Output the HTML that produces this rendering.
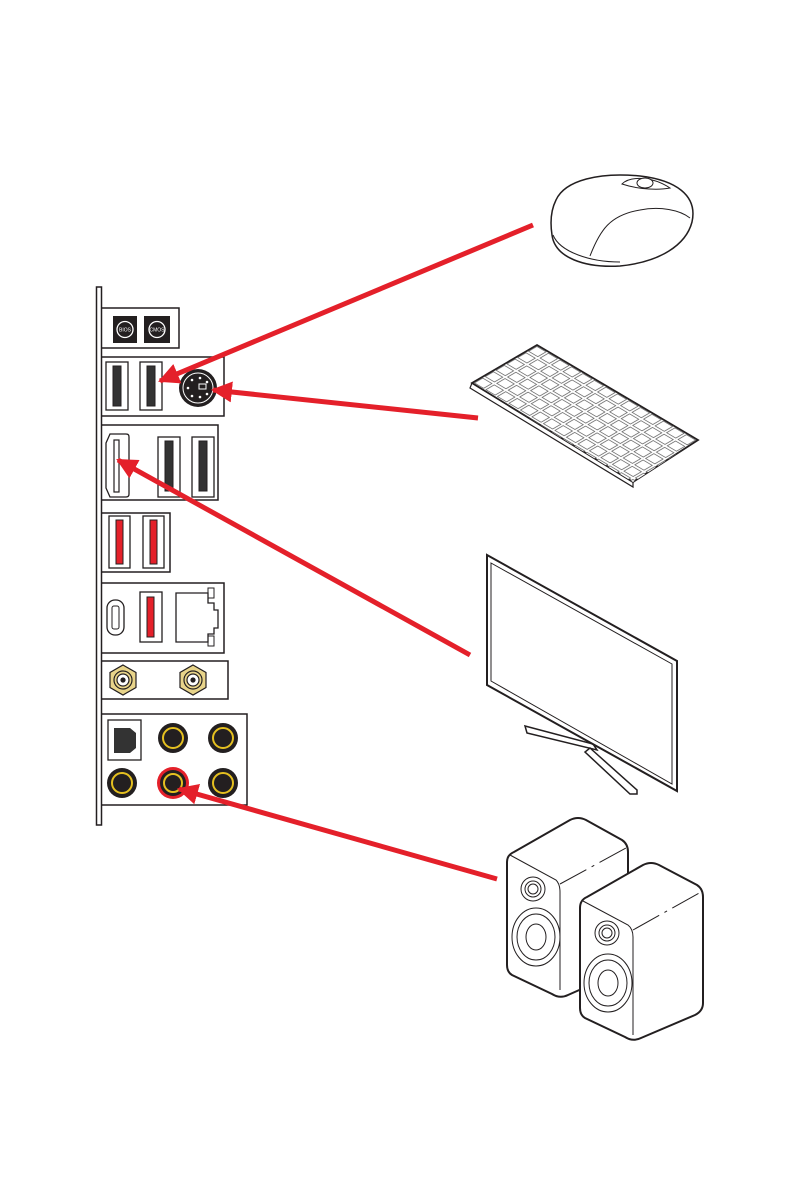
<!DOCTYPE html>
<html><head><meta charset="utf-8"><style>html,body{margin:0;padding:0;background:#fff}svg{display:block}</style></head>
<body>
<svg width="794" height="1191" viewBox="0 0 794 1191" xmlns="http://www.w3.org/2000/svg">
<defs>
<marker id="ah" viewBox="0 0 10 10" refX="9" refY="5" markerWidth="4.2" markerHeight="4.2" orient="auto" markerUnits="strokeWidth">
<path d="M0,0 L10,5 L0,10 z" fill="#e4202a"/></marker>
<pattern id="kp" patternUnits="userSpaceOnUse" width="1" height="1" patternTransform="matrix(11.5,6.786,-10.83,6.33,537,345)">
<rect x="0.1" y="0.12" width="0.8" height="0.76" fill="#fff" stroke="#555" stroke-width="0.06"/>
</pattern>
</defs>
<g stroke="#231f20" fill="none">
<rect x="96.5" y="287" width="5" height="538" stroke-width="1.5" fill="#fff"/>
<path d="M101,308 H179 V348 H101" stroke-width="1.5"/>
<rect x="113" y="316" width="24" height="27" fill="#231f20" stroke="none"/>
<rect x="144" y="316" width="26" height="27" fill="#231f20" stroke="none"/>
<circle cx="125" cy="329.5" r="8" stroke="#fff" stroke-width="1.3"/>
<circle cx="157" cy="329.5" r="8" stroke="#fff" stroke-width="1.3"/>
<text x="125" y="331.5" font-family="Liberation Sans, sans-serif" font-size="5" fill="#fff" stroke="none" text-anchor="middle">BIOS</text>
<text x="157" y="331.5" font-family="Liberation Sans, sans-serif" font-size="5" fill="#fff" stroke="none" text-anchor="middle">CMOS</text>
<path d="M101,357 H224 V416 H101" stroke-width="1.5"/>
<rect x="106" y="362" width="22" height="48" stroke-width="1.3"/>
<rect x="113" y="366" width="8" height="40" fill="#333" stroke-width="1"/>
<rect x="140" y="362" width="22" height="48" stroke-width="1.3"/>
<rect x="147" y="366" width="8" height="40" fill="#333" stroke-width="1"/>
<circle cx="198" cy="388" r="19" fill="#231f20" stroke="none"/>
<circle cx="198" cy="388" r="15" stroke="#fff" stroke-width="1"/>
<rect x="199" y="384" width="7" height="5" stroke="#fff" stroke-width="1"/>
<g fill="#fff" stroke="none"><circle cx="192" cy="380" r="1.3"/><circle cx="200" cy="378" r="1.3"/><circle cx="207" cy="382" r="1.3"/><circle cx="188" cy="388" r="1.3"/><circle cx="192" cy="396" r="1.3"/><circle cx="200" cy="397" r="1.3"/><circle cx="207" cy="394" r="1.3"/></g>
<path d="M101,425 H218 V500 H101" stroke-width="1.5"/>
<path d="M110,434 H126 Q129,434 129,437 V494 Q129,497 126,497 H110 L106,488 V443 Z" stroke-width="1.3"/>
<rect x="114" y="440" width="5" height="52" stroke-width="1.2"/>
<rect x="158" y="437" width="22" height="60" stroke-width="1.3"/>
<rect x="165" y="441" width="8" height="50" fill="#333" stroke-width="1"/>
<rect x="192" y="437" width="22" height="60" stroke-width="1.3"/>
<rect x="199" y="441" width="8" height="50" fill="#333" stroke-width="1"/>
<path d="M101,513 H170 V572 H101" stroke-width="1.5"/>
<rect x="109" y="516" width="21" height="52" stroke-width="1.3"/>
<rect x="116" y="520" width="7" height="44" fill="#e4202a" stroke-width="1"/>
<rect x="143" y="516" width="21" height="52" stroke-width="1.3"/>
<rect x="150" y="520" width="7" height="44" fill="#e4202a" stroke-width="1"/>
<path d="M101,583 H224 V653 H101" stroke-width="1.5"/>
<rect x="107" y="600" width="17" height="35" rx="8" stroke-width="1.3"/>
<rect x="112" y="606" width="7" height="23" rx="2" stroke-width="1"/>
<rect x="140" y="592" width="22" height="50" stroke-width="1.3"/>
<rect x="147" y="597" width="7" height="40" fill="#e4202a" stroke-width="1"/>
<path d="M176,593 H208 V603 H214 V610 H218 V628 H214 V634 H208 V642 H176 Z" stroke-width="1.3"/>
<rect x="208" y="588" width="6" height="10" stroke-width="1"/>
<rect x="208" y="636" width="6" height="10" stroke-width="1"/>
<path d="M101,661 H228 V699 H101" stroke-width="1.5"/>
<g stroke-width="1.2">
<polygon points="123,665 136,672.5 136,687.5 123,695 110,687.5 110,672.5" fill="#e8d48a"/>
<circle cx="123" cy="680" r="9" fill="#e8d48a"/><circle cx="123" cy="680" r="6" fill="#fff"/><circle cx="123" cy="680" r="2" fill="#231f20"/>
<polygon points="193,665 206,672.5 206,687.5 193,695 180,687.5 180,672.5" fill="#e8d48a"/>
<circle cx="193" cy="680" r="9" fill="#e8d48a"/><circle cx="193" cy="680" r="6" fill="#fff"/><circle cx="193" cy="680" r="2" fill="#231f20"/>
</g>
<path d="M101,714 H247 V805 H101" stroke-width="1.5"/>
<rect x="108" y="720" width="33" height="40" stroke-width="1.3"/>
<path d="M114,728 H130 L136,733 V748 L130,753 H114 Z" fill="#333" stroke="none"/>
<g fill="#231f20">
<circle cx="173" cy="738" r="15" stroke="none"/><circle cx="173" cy="738" r="10" stroke="#e5c020" stroke-width="2"/>
<circle cx="223" cy="738" r="15" stroke="none"/><circle cx="223" cy="738" r="10" stroke="#e5c020" stroke-width="2"/>
<circle cx="122" cy="783" r="15" stroke="none"/><circle cx="122" cy="783" r="10" stroke="#e5c020" stroke-width="2"/>
<circle cx="173" cy="783" r="16" fill="#e4202a" stroke="none"/><circle cx="173" cy="783" r="13" stroke="none"/><circle cx="173" cy="783" r="9" stroke="#e5c020" stroke-width="2"/>
<circle cx="223" cy="783" r="15" stroke="none"/><circle cx="223" cy="783" r="10" stroke="#e5c020" stroke-width="2"/>
</g>
</g>

<g stroke="#231f20" fill="#fff" stroke-width="1.5">
<path d="M556,200 C565,180 600,172 640,176 C675,180 698,195 692,222 C686,245 660,262 620,266 C585,268 555,258 552,235 C550,222 551,210 556,200 Z"/>
<path d="M553,235 C560,252 590,262 620,262" fill="none" stroke-width="1"/>
<path d="M590,256 C600,230 610,215 640,210 C660,206 680,210 690,218" fill="none" stroke-width="1"/>
<path d="M622,184 C630,176 652,176 670,188 C660,190 640,190 622,184 Z" stroke-width="1"/>
<ellipse cx="645" cy="183" rx="8" ry="5" stroke-width="1"/>
</g>
<g stroke="#231f20" fill="#fff">
<polygon points="472,383 633,482 633,487 470,388" stroke-width="1.2"/>
<polygon points="537,345 698,440 633,482 472,383" stroke-width="1.8"/>
<polygon points="537,345 698,440 633,482 472,383" fill="url(#kp)" stroke="none"/>
</g>
<g stroke="#231f20" fill="#fff">
<path d="M525,726 L593,744 L597,750 L527,733 Z" stroke-width="1.5"/>
<path d="M590,748 L637,790 L637,794 L630,794 L585,752 Z" stroke-width="1.5"/>
<polygon points="487,555 677,661 677,791 487,685" stroke-width="2"/>
<polygon points="491,563 672,664 672,784 491,681" stroke-width="1"/>
</g>
<g stroke="#231f20" fill="#fff">
<path d="M507,862 Q507,855 514,852 L570,820 Q578,816 586,820 L622,840 Q628,844 628,852 L628,960 Q628,968 620,972 L568,995 Q560,999 552,994 L512,975 Q507,972 507,965 Z" stroke-width="2"/>
<path d="M510,855 L556,880 Q560,884 560,892 L560,990" fill="none" stroke-width="1"/>
<path d="M560,884 L626,848" fill="none" stroke-width="1" stroke-dasharray="30,6,3,6"/>
<circle cx="533" cy="889" r="12" stroke-width="1"/><circle cx="533" cy="889" r="8" stroke-width="1"/><circle cx="533" cy="889" r="5" stroke-width="1"/>
<ellipse cx="536" cy="937" rx="24" ry="29" stroke-width="1"/><ellipse cx="536" cy="937" rx="19" ry="23" stroke-width="1"/><ellipse cx="536" cy="937" rx="10" ry="13" stroke-width="1"/>
<path d="M580,908 Q580,900 587,897 L643,865 Q651,861 659,865 L697,885 Q703,889 703,897 L703,1003 Q703,1011 695,1015 L641,1038 Q633,1042 625,1037 L585,1018 Q580,1015 580,1008 Z" stroke-width="2"/>
<path d="M583,901 L628,925 Q633,929 633,937 L633,1035" fill="none" stroke-width="1"/>
<path d="M633,930 L701,892" fill="none" stroke-width="1" stroke-dasharray="30,6,3,6"/>
<circle cx="607" cy="933" r="12" stroke-width="1"/><circle cx="607" cy="933" r="8" stroke-width="1"/><circle cx="607" cy="933" r="5" stroke-width="1"/>
<ellipse cx="608" cy="983" rx="24" ry="29" stroke-width="1"/><ellipse cx="608" cy="983" rx="19" ry="23" stroke-width="1"/><ellipse cx="608" cy="983" rx="10" ry="13" stroke-width="1"/>
</g>
<g stroke="#e4202a" stroke-width="5" fill="none" stroke-linecap="butt">
<line x1="533" y1="225" x2="160" y2="381" marker-end="url(#ah)"/>
<line x1="478" y1="418" x2="213" y2="390" marker-end="url(#ah)"/>
<line x1="470" y1="655" x2="118" y2="460" marker-end="url(#ah)"/>
<line x1="497" y1="879" x2="179" y2="789" marker-end="url(#ah)"/>
</g>
</svg>
</body></html>
